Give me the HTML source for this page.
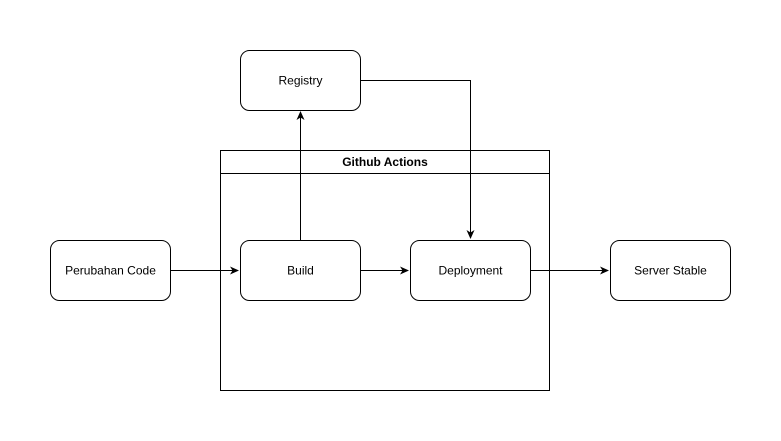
<!DOCTYPE html>
<html><head><meta charset="utf-8"><style>
html,body{margin:0;padding:0;background:#fff;}
svg{display:block;}
text{font-family:"Liberation Sans",Arial,sans-serif;font-size:12px;fill:#000;}
</style></head><body>
<svg width="781" height="441" viewBox="0 0 781 441" xmlns="http://www.w3.org/2000/svg">
<defs>
<marker id="a" markerWidth="10" markerHeight="10" refX="8" refY="5" orient="auto" markerUnits="userSpaceOnUse">
<path d="M0,1 L9,5 L0,9 L2.5,5 Z" fill="#000"/>
</marker>
</defs>
<rect width="781" height="441" fill="#fff"/>
<!-- container -->
<rect x="220.5" y="150.5" width="329" height="240" fill="#fff" stroke="#000"/>
<line x1="220.5" y1="173.5" x2="549.5" y2="173.5" stroke="#000"/>
<text x="385" y="166" text-anchor="middle" font-weight="bold">Github Actions</text>
<!-- connectors -->
<line x1="300.5" y1="240" x2="300.5" y2="112" stroke="#000" marker-end="url(#a)"/>
<polyline points="360,80.5 470.5,80.5 470.5,238" fill="none" stroke="#000" marker-end="url(#a)"/>
<line x1="170" y1="270.5" x2="238" y2="270.5" stroke="#000" marker-end="url(#a)"/>
<line x1="360" y1="270.5" x2="408" y2="270.5" stroke="#000" marker-end="url(#a)"/>
<line x1="530" y1="270.5" x2="608" y2="270.5" stroke="#000" marker-end="url(#a)"/>
<!-- boxes -->
<rect x="240.5" y="50.5" width="120" height="60" rx="9" fill="#fff" stroke="#000"/>
<text x="300.5" y="84.5" text-anchor="middle">Registry</text>
<rect x="50.5" y="240.5" width="120" height="60" rx="9" fill="#fff" stroke="#000"/>
<text x="110.5" y="274.5" text-anchor="middle">Perubahan Code</text>
<rect x="240.5" y="240.5" width="120" height="60" rx="9" fill="#fff" stroke="#000"/>
<text x="300.5" y="274.5" text-anchor="middle">Build</text>
<rect x="410.5" y="240.5" width="120" height="60" rx="9" fill="#fff" stroke="#000"/>
<text x="470.5" y="274.5" text-anchor="middle">Deployment</text>
<rect x="610.5" y="240.5" width="120" height="60" rx="9" fill="#fff" stroke="#000"/>
<text x="670.5" y="274.5" text-anchor="middle">Server Stable</text>
</svg>
</body></html>
